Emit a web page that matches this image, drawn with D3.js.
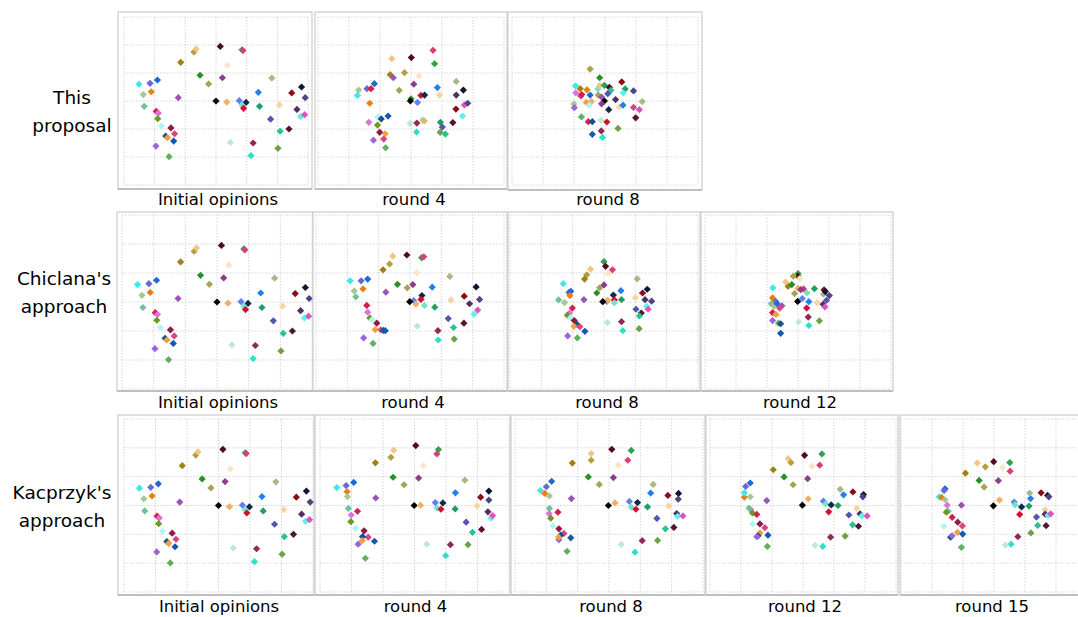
<!DOCTYPE html>
<html>
<head>
<meta charset="utf-8">
<script src="https://cdn.jsdelivr.net/npm/d3@7"></script>
<style>
  body { margin: 0; background: #fff; }
  svg { display: block; }
</style>
</head>
<body>
<svg id="chart" width="1078" height="617"></svg>
<script>
// Opinion evolution scatter panels (diamond markers, one colour per expert)
const svg = d3.select("#chart");

// expert colours (same expert = same colour in every panel)
const colors = {
  cyan: "#3de8e8", blueViolet: "#6468d8", blue1: "#1c6ad2", lightGreen: "#a6c894",
  orange: "#e88010", medGreen: "#6cc496", crimson: "#d42048", orchid: "#e070e0",
  olive1: "#6a9a20", paleCyan: "#b4f4f0", maroon: "#8c1c44", pink1: "#d84484",
  navyBlue: "#18508c", orangeLight: "#f0a040", darkBlue: "#1458b0", lavender: "#9a64dc",
  green60: "#60b060", purple: "#9c54b4", darkGold: "#a08010", khaki: "#b0a040",
  tan: "#f4c484", darkMaroon: "#4c0c1c", green2a: "#289028", oliveA0: "#a4a454",
  bisque: "#fae4c8", purpleMag: "#8c3c8c", green30: "#30a050", pink2: "#d84070",
  black: "#000000", sandOrange: "#f0b064", cornflower: "#6080f4", navyDark: "#10284c",
  aquamarine: "#70e4c4", red: "#d01030", blue2: "#2080f0", green20: "#20a060",
  sage: "#a8b884", darkRed: "#8c0c1c", navyBlack: "#0c1834", slateDark: "#504484",
  peach: "#f8d4a4", plumDark: "#503060", cyanLight: "#60f0f0", orchidPink: "#e054c0",
  slateBlue: "#5454b4", seaGreen: "#24c490", darkPlum: "#541434", oliveGreen: "#70a044",
  mint: "#c0e8d0", darkMagenta: "#902858", turquoise: "#30e0c4"
};

// [x, y, expert] in grid units, grid runs -3..3 both ways
const initialOpinions = [
  [-2.51, 0.60, "cyan"], [-2.15, 0.63, "blueViolet"], [-1.91, 0.75, "blue1"], [-2.37, 0.23, "lightGreen"],
  [-2.11, 0.33, "orange"], [-2.34, -0.19, "medGreen"], [-1.95, -0.37, "crimson"], [-1.88, -0.43, "orchid"],
  [-1.90, -0.63, "olive1"], [-1.78, -0.89, "paleCyan"], [-1.47, -0.96, "maroon"], [-1.35, -1.17, "pink1"],
  [-1.64, -1.25, "navyBlue"], [-1.58, -1.31, "orangeLight"], [-1.38, -1.43, "darkBlue"], [-1.96, -1.61, "lavender"],
  [-1.53, -1.99, "green60"], [-1.23, 0.12, "purple"], [-1.15, 1.38, "darkGold"], [-0.72, 1.75, "khaki"],
  [-0.65, 1.86, "tan"], [0.14, 1.95, "darkMaroon"], [-0.52, 0.92, "green2a"], [-0.24, 0.61, "oliveA0"],
  [0.37, 1.27, "bisque"], [0.21, 0.83, "purpleMag"], [0.85, 1.83, "green30"], [0.88, 1.80, "pink2"],
  [0.00, 0.00, "black"], [0.35, -0.04, "sandOrange"], [0.76, 0.01, "cornflower"], [0.98, -0.05, "navyDark"],
  [0.85, -0.15, "aquamarine"], [0.90, -0.26, "red"], [1.38, 0.31, "blue2"], [1.42, -0.19, "green20"],
  [1.82, 0.82, "sage"], [2.47, 0.29, "darkRed"], [2.79, 0.50, "navyBlack"], [2.91, 0.12, "slateDark"],
  [2.07, -0.14, "peach"], [2.64, -0.30, "plumDark"], [2.76, -0.55, "cyanLight"], [2.89, -0.49, "orchidPink"],
  [1.78, -0.65, "slateBlue"], [2.09, -1.08, "seaGreen"], [2.38, -1.00, "darkPlum"], [2.02, -1.69, "oliveGreen"],
  [0.47, -1.48, "mint"], [1.21, -1.50, "darkMagenta"], [1.14, -1.95, "turquoise"]
];

const proposalRound4 = [
  [0.71, 1.81, "pink2"], [0.76, 1.33, "green30"], [0.01, 1.55, "darkMaroon"], [-0.62, 1.51, "tan"],
  [-0.67, 0.94, "darkGold"], [-0.21, 1.01, "khaki"], [-0.57, 0.83, "purple"], [0.26, 0.89, "bisque"],
  [-0.38, 0.38, "oliveA0"], [0.09, 0.60, "purpleMag"], [0.85, 0.48, "blue2"], [0.92, 0.21, "peach"],
  [0.00, 0.08, "green2a"], [-0.02, 0.00, "black"], [0.21, -0.05, "cornflower"], [0.32, 0.20, "red"],
  [0.44, 0.21, "navyDark"], [1.46, 0.70, "sage"], [1.69, 0.39, "navyBlack"], [1.46, 0.21, "plumDark"],
  [1.45, -0.29, "darkRed"], [1.72, -0.14, "orchidPink"], [1.83, -0.08, "slateDark"], [1.66, -0.54, "cyanLight"],
  [1.35, -0.77, "darkPlum"], [0.95, -0.76, "green20"], [1.01, -0.93, "slateBlue"], [0.94, -1.12, "oliveGreen"],
  [1.11, -1.18, "seaGreen"], [-0.03, -0.80, "mint"], [0.19, -0.79, "darkMagenta"], [0.38, -0.68, "aquamarine"],
  [0.43, -0.71, "sandOrange"], [0.18, -1.11, "turquoise"], [-1.69, 0.39, "lightGreen"], [-1.42, 0.44, "blueViolet"],
  [-1.29, 0.44, "crimson"], [-1.18, 0.62, "blue1"], [-1.73, 0.20, "cyan"], [-1.33, -0.08, "orange"],
  [-1.07, -0.57, "paleCyan"], [-0.96, -0.64, "navyBlue"], [-0.74, -0.54, "darkBlue"], [-1.36, -0.76, "orchid"],
  [-1.08, -0.86, "olive1"], [-1.01, -1.12, "maroon"], [-0.83, -1.17, "orangeLight"], [-1.21, -1.40, "lavender"],
  [-0.88, -1.36, "pink1"], [-0.82, -1.67, "green60"]
];

const proposalRound8 = [
  [-0.48, 1.14, "khaki"], [-0.17, 0.83, "green2a"], [0.54, 0.68, "darkRed"], [0.65, 0.43, "green20"],
  [0.92, 0.36, "slateDark"], [0.59, 0.29, "cyanLight"], [-0.95, 0.54, "cyan"], [-0.80, 0.44, "darkGold"],
  [-0.58, 0.40, "orange"], [-0.23, 0.43, "aquamarine"], [-0.17, 0.55, "tan"], [-0.02, 0.56, "green30"],
  [0.14, 0.49, "darkMaroon"], [0.19, 0.38, "seaGreen"], [-0.94, 0.29, "orchid"], [-0.78, 0.18, "pink2"],
  [-0.75, 0.23, "crimson"], [-0.48, 0.21, "blue1"], [-0.22, 0.21, "oliveA0"], [-0.11, 0.14, "purple"],
  [0.09, 0.26, "slateBlue"], [-0.02, 0.00, "black"], [0.34, 0.05, "plumDark"], [-0.60, -0.05, "orangeLight"],
  [-0.44, -0.02, "sandOrange"], [-0.51, -0.15, "paleCyan"], [-0.11, -0.10, "purpleMag"], [-1.00, -0.11, "lightGreen"],
  [-0.99, -0.24, "lavender"], [0.12, -0.31, "navyDark"], [0.46, -0.21, "peach"], [0.58, -0.15, "blue2"],
  [0.92, -0.23, "pink1"], [1.11, -0.31, "orchidPink"], [1.20, -0.02, "sage"], [0.99, -0.60, "darkPlum"],
  [-0.76, -0.57, "green60"], [-0.54, -0.74, "crimson"], [-0.41, -0.74, "navyBlue"], [-0.13, -0.69, "mint"],
  [0.06, -0.75, "red"], [0.42, -0.98, "oliveGreen"], [-0.41, -1.19, "darkBlue"], [-0.12, -1.07, "darkMagenta"],
  [-0.08, -1.30, "turquoise"]
];

const chiclanaRound4 = [
  [-0.10, 1.62, "darkMaroon"], [0.37, 1.53, "green30"], [0.44, 1.56, "pink2"], [-0.55, 1.58, "tan"],
  [-0.65, 1.31, "khaki"], [-0.86, 1.11, "darkGold"], [0.22, 1.01, "bisque"], [-0.40, 0.61, "green2a"],
  [-0.09, 0.49, "oliveA0"], [0.09, 0.60, "purpleMag"], [-0.77, 0.34, "purple"], [0.71, 0.51, "blue2"],
  [1.27, 0.88, "sage"], [2.11, 0.52, "navyBlack"], [1.73, 0.20, "darkRed"], [2.22, 0.09, "slateDark"],
  [1.90, -0.06, "plumDark"], [1.31, 0.07, "peach"], [2.16, -0.28, "orchidPink"], [2.04, -0.42, "cyanLight"],
  [1.22, -0.57, "slateBlue"], [1.72, -0.73, "darkPlum"], [1.39, -0.88, "seaGreen"], [1.41, -1.28, "oliveGreen"],
  [0.90, -1.31, "turquoise"], [0.89, -0.99, "darkMagenta"], [0.23, -0.83, "mint"], [0.79, -0.18, "green20"],
  [0.46, -0.12, "aquamarine"], [0.38, 0.22, "navyDark"], [0.35, 0.09, "red"], [0.12, 0.05, "cornflower"],
  [0.19, -0.07, "sandOrange"], [-0.01, 0.01, "black"], [-1.91, 0.73, "cyan"], [-1.56, 0.73, "blueViolet"],
  [-1.35, 0.79, "blue1"], [-1.50, 0.45, "orange"], [-1.78, 0.38, "lightGreen"], [-1.73, 0.18, "medGreen"],
  [-1.38, -0.12, "crimson"], [-1.35, -0.35, "orchid"], [-1.28, -0.55, "olive1"], [-1.21, -0.61, "paleCyan"],
  [-1.06, -0.73, "maroon"], [-1.11, -0.95, "orangeLight"], [-0.93, -0.96, "pink1"], [-0.85, -0.98, "navyBlue"],
  [-0.79, -0.99, "darkBlue"], [-1.48, -1.24, "lavender"], [-1.18, -1.43, "green60"]
];

const chiclanaRound8 = [
  [0.00, 1.39, "green30"], [0.05, 1.23, "darkMaroon"], [0.27, 1.11, "pink2"], [0.13, 0.99, "bisque"],
  [-0.43, 1.13, "tan"], [-0.55, 0.94, "khaki"], [-0.62, 0.79, "darkGold"], [-0.14, 0.49, "oliveA0"],
  [0.00, 0.59, "purpleMag"], [-0.23, 0.31, "green2a"], [0.54, 0.39, "blue2"], [0.30, 0.24, "navyDark"],
  [0.33, 0.07, "red"], [0.09, 0.02, "cornflower"], [0.12, 0.06, "sandOrange"], [-0.04, 0.01, "black"],
  [0.33, -0.03, "aquamarine"], [0.56, 0.08, "green20"], [1.06, 0.80, "sage"], [1.38, 0.44, "navyBlack"],
  [1.23, 0.31, "darkRed"], [1.00, 0.15, "peach"], [1.31, 0.08, "plumDark"], [1.52, 0.03, "slateDark"],
  [1.02, -0.25, "slateBlue"], [1.19, -0.38, "darkPlum"], [1.36, -0.15, "cyanLight"], [1.41, -0.25, "orchidPink"],
  [1.13, -0.48, "seaGreen"], [1.12, -0.92, "oliveGreen"], [0.56, -0.68, "darkMagenta"], [0.60, -0.99, "turquoise"],
  [0.11, -0.71, "mint"], [-1.30, 0.63, "cyan"], [-1.12, 0.33, "blueViolet"], [-1.06, 0.37, "blue1"],
  [-1.09, 0.22, "orange"], [-0.64, 0.08, "purple"], [-1.45, 0.07, "medGreen"], [-1.26, -0.02, "lightGreen"],
  [-1.01, -0.21, "crimson"], [-1.10, -0.38, "orchid"], [-1.17, -0.46, "olive1"], [-1.07, -0.54, "paleCyan"],
  [-0.95, -0.64, "maroon"], [-0.87, -0.76, "navyBlue"], [-0.96, -0.84, "orangeLight"], [-0.77, -0.85, "pink1"],
  [-0.61, -1.01, "darkBlue"], [-1.16, -1.17, "lavender"], [-0.85, -1.24, "green60"]
];

const chiclanaRound12 = [
  [0.00, 0.98, "green30"], [0.00, 0.89, "darkMaroon"], [-0.15, 0.89, "khaki"], [0.06, 0.81, "bisque"],
  [-0.32, 0.54, "darkGold"], [-0.40, 0.69, "tan"], [-0.20, 0.60, "green2a"], [0.00, 0.47, "sandOrange"],
  [0.18, 0.45, "pink2"], [0.09, 0.43, "purpleMag"], [0.53, 0.46, "green20"], [0.29, 0.31, "aquamarine"],
  [-0.11, 0.29, "oliveA0"], [-0.81, 0.49, "cyan"], [0.14, 0.12, "cornflower"], [0.35, 0.01, "blue2"],
  [-0.01, 0.02, "black"], [0.28, -0.21, "red"], [0.82, 0.27, "sage"], [0.84, 0.42, "darkRed"],
  [0.88, 0.36, "navyBlack"], [1.01, 0.22, "slateDark"], [0.92, 0.06, "slateBlue"], [0.81, -0.08, "plumDark"],
  [0.62, -0.02, "peach"], [0.87, -0.17, "orchidPink"], [0.33, -0.52, "darkMagenta"], [0.69, -0.65, "oliveGreen"],
  [0.35, -0.81, "turquoise"], [0.02, -0.69, "mint"], [-0.82, 0.14, "orange"], [-0.72, 0.02, "blueViolet"],
  [-0.86, -0.06, "medGreen"], [-0.77, -0.15, "lightGreen"], [-0.67, -0.06, "blue1"], [-0.52, -0.13, "purple"],
  [-0.59, -0.21, "pink1"], [-0.82, -0.37, "crimson"], [-0.71, -0.43, "orangeLight"], [-0.82, -0.64, "lavender"],
  [-0.63, -0.73, "green60"], [-0.56, -0.75, "navyBlue"], [-0.56, -1.08, "darkBlue"]
];

const kacprzykRound4 = [
  [0.04, 2.08, "darkMaroon"], [0.76, 1.94, "green30"], [0.71, 1.79, "pink2"], [-0.66, 1.92, "tan"],
  [-0.75, 1.67, "khaki"], [-1.24, 1.48, "darkGold"], [0.28, 1.38, "bisque"], [-0.68, 0.98, "green2a"],
  [-0.33, 0.72, "oliveA0"], [0.13, 0.95, "purpleMag"], [-1.23, 0.26, "purple"], [-0.01, 0.00, "black"],
  [0.19, 0.01, "sandOrange"], [0.66, 0.10, "cornflower"], [0.90, 0.09, "navyDark"], [0.72, -0.09, "aquamarine"],
  [0.84, -0.13, "red"], [1.30, 0.44, "blue2"], [1.29, -0.12, "green20"], [1.60, 0.88, "sage"],
  [2.10, 0.29, "darkRed"], [2.36, 0.50, "navyBlack"], [2.36, 0.19, "slateDark"], [1.99, -0.01, "peach"],
  [2.33, -0.22, "plumDark"], [2.43, -0.44, "cyanLight"], [2.48, -0.35, "orchidPink"], [1.64, -0.58, "slateBlue"],
  [1.84, -0.93, "seaGreen"], [2.13, -0.83, "darkPlum"], [1.70, -1.36, "oliveGreen"], [1.14, -1.36, "darkMagenta"],
  [0.99, -1.74, "turquoise"], [0.39, -1.34, "mint"], [-2.47, 0.62, "cyan"], [-2.17, 0.69, "blueViolet"],
  [-1.93, 0.80, "blue1"], [-2.14, 0.48, "orange"], [-2.13, 0.31, "lightGreen"], [-2.10, -0.10, "medGreen"],
  [-1.81, -0.20, "crimson"], [-2.01, -0.33, "orchid"], [-2.02, -0.56, "olive1"], [-1.87, -0.79, "paleCyan"],
  [-1.60, -0.88, "maroon"], [-1.47, -1.10, "pink1"], [-1.65, -1.08, "navyBlue"], [-1.66, -1.22, "orangeLight"],
  [-1.79, -1.34, "lavender"], [-1.27, -1.24, "darkBlue"], [-1.56, -1.83, "green60"]
];

const kacprzykRound8 = [
  [0.09, 1.95, "darkMaroon"], [0.71, 1.91, "green30"], [0.60, 1.57, "pink2"], [-0.57, 1.80, "tan"],
  [-0.57, 1.57, "khaki"], [-1.17, 1.47, "darkGold"], [0.30, 1.40, "bisque"], [-0.66, 0.99, "green2a"],
  [-0.31, 0.73, "oliveA0"], [0.14, 0.97, "purpleMag"], [-1.20, 0.24, "purple"], [-0.02, 0.00, "black"],
  [0.19, 0.09, "sandOrange"], [0.65, 0.14, "cornflower"], [0.91, 0.10, "navyDark"], [0.71, -0.06, "aquamarine"],
  [0.86, -0.13, "red"], [1.23, -0.05, "green20"], [1.33, 0.43, "blue2"], [1.41, 0.73, "sage"],
  [1.88, 0.35, "darkRed"], [2.22, 0.42, "navyBlack"], [2.21, 0.22, "slateDark"], [1.91, -0.02, "peach"],
  [2.16, -0.28, "plumDark"], [2.19, -0.38, "cyanLight"], [2.36, -0.36, "orchidPink"], [1.53, -0.45, "slateBlue"],
  [1.80, -0.81, "seaGreen"], [2.07, -0.76, "darkPlum"], [1.55, -1.21, "oliveGreen"], [1.06, -1.22, "darkMagenta"],
  [0.83, -1.62, "turquoise"], [0.39, -1.35, "mint"], [-1.83, 0.84, "blue1"], [-2.00, 0.65, "blueViolet"],
  [-2.19, 0.52, "cyan"], [-2.05, 0.42, "orange"], [-1.90, 0.33, "lightGreen"], [-1.90, -0.10, "medGreen"],
  [-1.63, -0.23, "crimson"], [-1.91, -0.28, "orchid"], [-1.86, -0.44, "olive1"], [-1.79, -0.71, "paleCyan"],
  [-1.60, -0.81, "maroon"], [-1.44, -0.97, "pink1"], [-1.54, -1.03, "navyBlue"], [-1.60, -1.19, "lavender"],
  [-1.61, -1.10, "orangeLight"], [-1.22, -1.12, "darkBlue"], [-1.34, -1.59, "green60"]
];

const kacprzykRound12 = [
  [0.05, 1.74, "darkMaroon"], [0.61, 1.79, "green30"], [0.54, 1.40, "pink2"], [0.29, 1.37, "bisque"],
  [-0.48, 1.63, "tan"], [-0.39, 1.49, "khaki"], [-0.96, 1.24, "darkGold"], [-0.61, 0.99, "green2a"],
  [-0.32, 0.72, "oliveA0"], [0.15, 0.93, "purpleMag"], [-1.17, 0.17, "purple"], [-0.02, 0.01, "black"],
  [0.17, 0.23, "sandOrange"], [0.66, 0.15, "cornflower"], [0.73, 0.06, "aquamarine"], [0.91, 0.02, "navyDark"],
  [1.13, 0.00, "green20"], [0.83, -0.22, "red"], [1.31, 0.37, "blue2"], [1.20, 0.56, "sage"],
  [1.61, 0.47, "darkRed"], [1.95, 0.38, "navyBlack"], [1.93, 0.30, "slateDark"], [1.73, -0.10, "peach"],
  [1.84, -0.29, "plumDark"], [1.90, -0.36, "cyanLight"], [2.07, -0.36, "orchidPink"], [1.48, -0.33, "slateBlue"],
  [1.60, -0.67, "seaGreen"], [1.79, -0.72, "darkPlum"], [1.36, -1.06, "oliveGreen"], [0.89, -1.10, "darkMagenta"],
  [0.64, -1.42, "turquoise"], [0.39, -1.38, "mint"], [-1.70, 0.78, "blue1"], [-1.85, 0.66, "blueViolet"],
  [-1.89, 0.29, "orange"], [-1.89, 0.44, "cyan"], [-1.70, 0.30, "lightGreen"], [-1.69, -0.14, "orchid"],
  [-1.74, -0.09, "medGreen"], [-1.63, -0.26, "olive1"], [-1.49, -0.31, "crimson"], [-1.62, -0.64, "paleCyan"],
  [-1.39, -0.64, "maroon"], [-1.23, -0.77, "pink1"], [-1.39, -0.95, "orangeLight"], [-1.45, -1.05, "navyBlue"],
  [-1.49, -1.08, "lavender"], [-1.13, -1.03, "darkBlue"], [-1.15, -1.42, "green60"]
];

const kacprzykRound15 = [
  [-0.01, 1.52, "darkMaroon"], [0.51, 1.49, "green30"], [0.52, 1.19, "pink2"], [0.28, 1.31, "bisque"],
  [-0.54, 1.47, "tan"], [-0.28, 1.34, "khaki"], [-0.92, 1.12, "darkGold"], [-0.48, 0.87, "green2a"],
  [-0.32, 0.64, "oliveA0"], [0.14, 0.86, "purpleMag"], [-1.05, 0.01, "purple"], [-0.02, -0.01, "black"],
  [0.18, 0.19, "sandOrange"], [0.65, 0.12, "cornflower"], [0.68, 0.02, "aquamarine"], [0.89, -0.05, "navyDark"],
  [1.13, -0.02, "green20"], [0.83, -0.31, "red"], [1.18, 0.24, "blue2"], [1.15, 0.43, "sage"],
  [1.52, 0.44, "darkRed"], [1.73, 0.35, "navyBlack"], [1.77, 0.30, "slateDark"], [1.65, -0.15, "peach"],
  [1.65, -0.30, "plumDark"], [1.74, -0.34, "cyanLight"], [1.83, -0.29, "orchidPink"], [1.37, -0.40, "slateBlue"],
  [1.41, -0.69, "seaGreen"], [1.68, -0.70, "darkPlum"], [1.19, -0.95, "oliveGreen"], [0.77, -1.08, "darkMagenta"],
  [0.55, -1.34, "turquoise"], [0.37, -1.37, "mint"], [-1.58, 0.58, "blue1"], [-1.61, 0.52, "blueViolet"],
  [-1.77, 0.30, "cyan"], [-1.69, 0.28, "orange"], [-1.58, 0.20, "lightGreen"], [-1.51, 0.01, "orchid"],
  [-1.48, -0.20, "medGreen"], [-1.54, -0.23, "olive1"], [-1.35, -0.41, "crimson"], [-1.17, -0.58, "maroon"],
  [-1.02, -0.71, "pink1"], [-1.62, -0.72, "paleCyan"], [-1.18, -0.93, "orangeLight"], [-1.40, -1.10, "navyBlue"],
  [-1.35, -1.05, "lavender"], [-1.01, -0.99, "darkBlue"], [-1.05, -1.45, "green60"]
];

const rowLabels = [["This", "proposal"], ["Chiclana's", "approach"], ["Kacprzyk's", "approach"]];

// panel frames: box = outer border, grid = extent of the -3..3 grid
const panels = [
  { data: initialOpinions, caption: "Initial opinions", box: [118, 12, 312, 189], grid: [124, 17, 308, 185], capY: 199 },
  { data: proposalRound4, caption: "round 4", box: [315, 12, 507, 189], grid: [318, 17, 504, 185], capY: 199 },
  { data: proposalRound8, caption: "round 8", box: [508, 12, 702, 190], grid: [512, 17, 698, 185], capY: 199 },
  { data: initialOpinions, caption: "Initial opinions", box: [117, 212, 313, 391], grid: [122, 215, 312, 389], capY: 402 },
  { data: chiclanaRound4, caption: "round 4", box: [313, 212, 507, 391], grid: [316, 215, 504, 389], capY: 402 },
  { data: chiclanaRound8, caption: "round 8", box: [508, 212, 700, 391], grid: [510, 215, 698, 389], capY: 402 },
  { data: chiclanaRound12, caption: "round 12", box: [701, 212, 893, 391], grid: [705, 215, 891, 389], capY: 402 },
  { data: initialOpinions, caption: "Initial opinions", box: [118, 415, 314, 595], grid: [124, 419, 313, 592], capY: 606 },
  { data: kacprzykRound4, caption: "round 4", box: [315, 415, 510, 595], grid: [320, 419, 509, 592], capY: 606 },
  { data: kacprzykRound8, caption: "round 8", box: [511, 415, 705, 595], grid: [515, 419, 703, 592], capY: 606 },
  { data: kacprzykRound12, caption: "round 12", box: [706, 415, 898, 595], grid: [710, 419, 896, 592], capY: 606 },
  { data: kacprzykRound15, caption: "round 15", box: [900, 415, 1090, 595], grid: [901, 419, 1087, 592], capY: 606 }
];

const gridTicks = d3.range(-3, 4);
const diamond = d3.symbol().type(d3.symbolSquare).size(26);

panels.forEach((p) => {
  const [bx0, by0, bx1, by1] = p.box;
  const [gx0, gy0, gx1, gy1] = p.grid;
  const x = d3.scaleLinear().domain([-3, 3]).range([gx0, gx1]);
  const y = d3.scaleLinear().domain([-3, 3]).range([gy1, gy0]);

  const g = svg.append("g");

  g.append("rect")
    .attr("x", bx0).attr("y", by0)
    .attr("width", bx1 - bx0).attr("height", by1 - by0)
    .attr("fill", "#fff")
    .attr("stroke", "#cfcfcf")
    .attr("stroke-width", 1.3);

  // bottom edge is a bit darker
  g.append("line")
    .attr("x1", bx0).attr("x2", bx1)
    .attr("y1", by1).attr("y2", by1)
    .attr("stroke", "#b4b4b4")
    .attr("stroke-width", 1.6);

  // dotted grid
  g.append("g")
    .selectAll("line.v")
    .data(gridTicks)
    .join("line")
    .attr("x1", (d) => x(d)).attr("x2", (d) => x(d))
    .attr("y1", gy0).attr("y2", gy1)
    .attr("stroke", "#d6d6d6")
    .attr("stroke-dasharray", "1.5,1.5");

  g.append("g")
    .selectAll("line.h")
    .data(gridTicks)
    .join("line")
    .attr("x1", gx0).attr("x2", gx1)
    .attr("y1", (d) => y(d)).attr("y2", (d) => y(d))
    .attr("stroke", "#d6d6d6")
    .attr("stroke-dasharray", "1.5,1.5");

  // experts as diamonds
  g.append("g")
    .selectAll("path")
    .data(p.data)
    .join("path")
    .attr("d", diamond)
    .attr("transform", (d) => `translate(${x(d[0])},${y(d[1])}) rotate(45)`)
    .attr("fill", (d) => colors[d[2]]);

  svg.append("text")
    .attr("x", (bx0 + Math.min(bx1, 1078)) / 2 + 3)
    .attr("y", p.capY)
    .attr("dy", "0.35em")
    .attr("text-anchor", "middle")
    .attr("font-family", "DejaVu Sans, Verdana, sans-serif")
    .attr("font-size", 16.5)
    .attr("fill", "#000")
    .text(p.caption);
});

// row labels on the left
const labelY = [112, 293, 507];
const labelX = [72, 64, 62];
rowLabels.forEach((lines, i) => {
  const t = svg.append("text")
    .attr("text-anchor", "middle")
    .attr("font-family", "DejaVu Sans, Verdana, sans-serif")
    .attr("font-size", 18.5)
    .attr("fill", "#000");
  lines.forEach((s, j) => {
    t.append("tspan")
      .attr("x", labelX[i])
      .attr("y", labelY[i] + (j - 0.5) * 28)
      .attr("dy", "0.35em")
      .text(s);
  });
});
</script>
</body>
</html>
